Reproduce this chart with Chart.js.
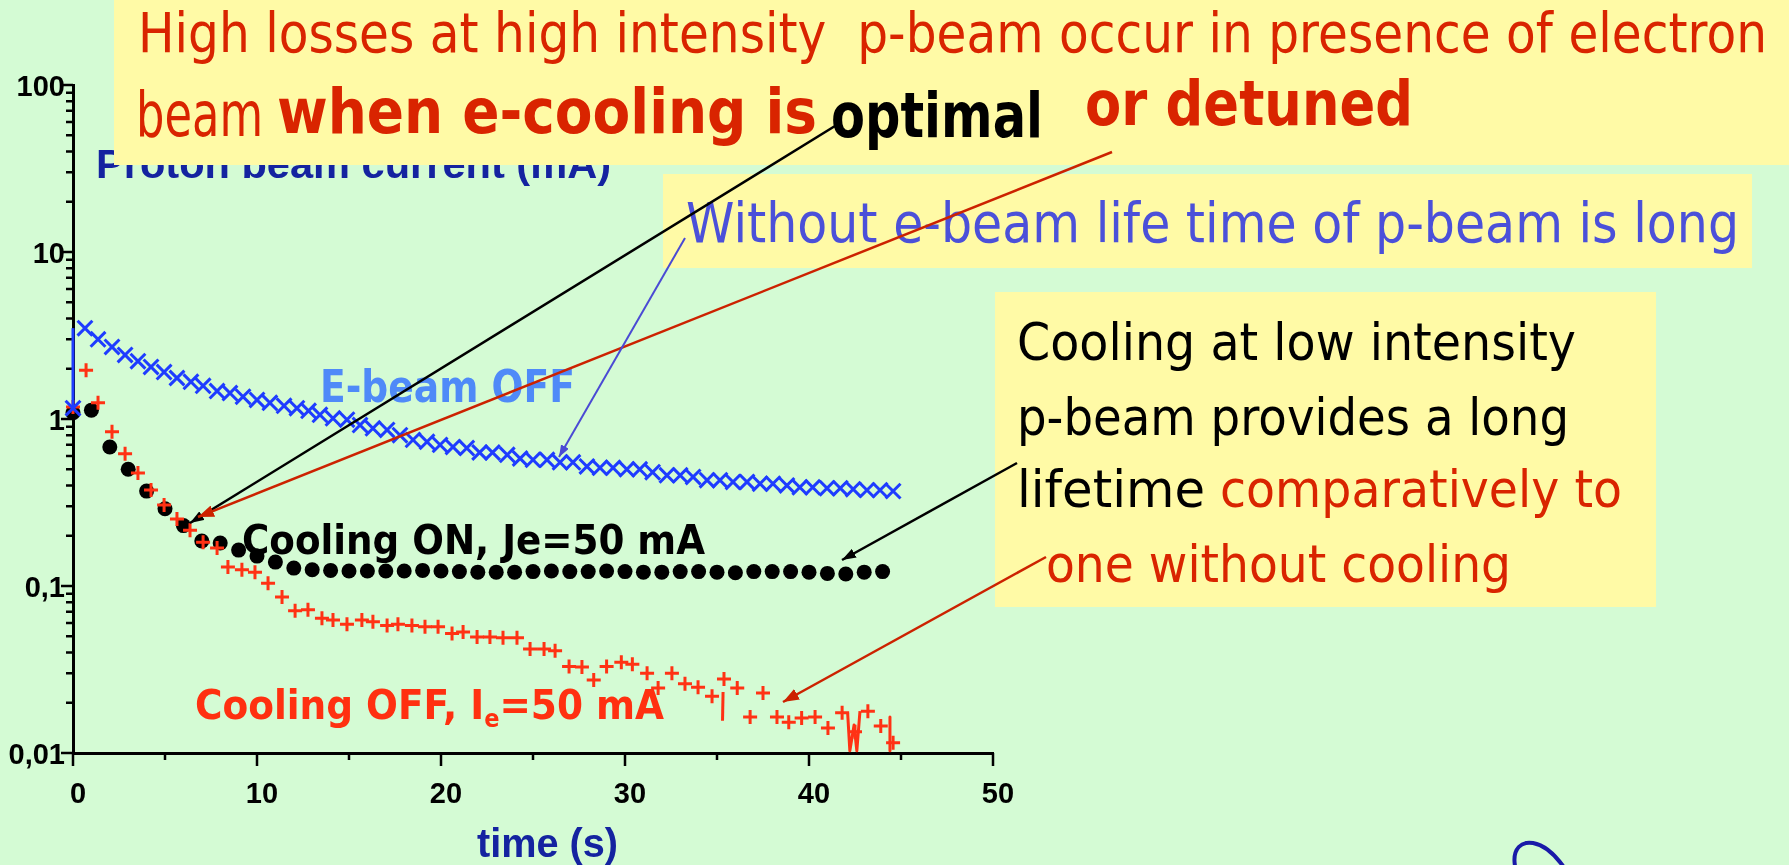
<!DOCTYPE html>
<html>
<head>
<meta charset="utf-8">
<title>Proton beam current</title>
<script src="https://cdn.jsdelivr.net/npm/chart.js@4.4.1/dist/chart.umd.min.js"></script>
<style>
    html, body { margin: 0; padding: 0; }
    body {
        width: 1789px; height: 865px; overflow: hidden; position: relative;
        background: #d4fbd4; font-family: 'DejaVu Sans', sans-serif;
    }
    #myChart { position: absolute; left: 0; top: 0; z-index: 0; }
    .box { position: absolute; background: #fffaa6; z-index: 2; }
    .t { position: absolute; white-space: nowrap; line-height: 1; transform-origin: 0 0; z-index: 3; }
    .b { font-weight: bold; }
    .axis { font-family: 'Liberation Sans', Arial, sans-serif; font-weight: bold; color: #1423a0; z-index: 1; }
    .red { color: #d92400; }
    sub { font-size: 0.6em; line-height: 0; vertical-align: -0.35em; }
    #arrows { position: absolute; left: 0; top: 0; z-index: 4; }
</style>
</head>
<body>
<canvas id="myChart" width="1789" height="865"></canvas>

<div class="t axis" data-w="515" style="left:96px;top:144px;font-size:40px">Proton beam current (mA)</div>
<div class="t axis" data-w="141" style="left:477px;top:823px;font-size:40px">time (s)</div>

<div class="box" style="left:114px;top:0;width:1675px;height:165px"></div>
<div class="t red" data-w="1629" style="left:138px;top:6px;font-size:55px">High losses at high intensity&nbsp; p-beam occur in presence of electron</div>
<div class="t red" data-w="127" style="left:136px;top:83px;font-size:63px">beam</div>
<div class="t red b" data-w="540" style="left:277px;top:80px;font-size:63px">when e-cooling is</div>
<div class="t b" data-w="212" style="left:831px;top:84px;font-size:63px;color:#000">optimal</div>
<div class="t red b" data-w="328" style="left:1085px;top:72px;font-size:63px">or detuned</div>

<div class="box" style="left:663px;top:174px;width:1089px;height:94px"></div>
<div class="t" data-w="1053" style="left:686px;top:196px;font-size:55px;color:#4b50d9">Without e-beam life time of p-beam is long</div>

<div class="box" style="left:995px;top:292px;width:661px;height:315px"></div>
<div class="t" data-w="559" style="left:1017px;top:317px;font-size:51px;color:#000">Cooling at low intensity</div>
<div class="t" data-w="552" style="left:1017px;top:392px;font-size:51px;color:#000">p-beam provides a long</div>
<div class="t" data-w="188" style="left:1017px;top:464px;font-size:51px;color:#000">lifetime</div>
<div class="t red" data-w="402" style="left:1220px;top:464px;font-size:51px">comparatively to</div>
<div class="t red" data-w="465" style="left:1046px;top:539px;font-size:51px">one without cooling</div>

<div class="t b" data-w="255" style="left:320px;top:365px;font-size:44px;color:#4f8af8">E-beam OFF</div>
<div class="t b" data-w="463" style="left:242px;top:520px;font-size:40px;color:#000">Cooling ON, Je=50 mA</div>
<div class="t b" data-w="469" style="left:195px;top:685px;font-size:40px;color:#ff3010">Cooling OFF, I<sub>e</sub>=50 mA</div>

<svg id="arrows" width="1789" height="865">
    <defs>
        <marker id="headBlack" markerUnits="userSpaceOnUse" markerWidth="14" markerHeight="10" refX="14" refY="5" orient="auto">
            <path d="M0,0 L14,5 L0,10 z" fill="#000"/>
        </marker>
        <marker id="headRed" markerUnits="userSpaceOnUse" markerWidth="16" markerHeight="12" refX="16" refY="6" orient="auto">
            <path d="M0,0 L16,6 L0,12 z" fill="#cc2200"/>
        </marker>
        <marker id="headBlue" markerUnits="userSpaceOnUse" markerWidth="12" markerHeight="9" refX="12" refY="4.5" orient="auto">
            <path d="M0,0 L12,4.5 L0,9 z" fill="#4a4ad4"/>
        </marker>
    </defs>
    <line x1="835" y1="126" x2="190" y2="523" stroke="#000" stroke-width="2.5" marker-end="url(#headBlack)"/>
    <line x1="1112" y1="152" x2="198" y2="517" stroke="#cc2200" stroke-width="2.5" marker-end="url(#headRed)"/>
    <line x1="685" y1="238" x2="559" y2="457" stroke="#4a4ad4" stroke-width="2" marker-end="url(#headBlue)"/>
    <line x1="1017" y1="463" x2="842" y2="560" stroke="#000" stroke-width="2.5" marker-end="url(#headBlack)"/>
    <line x1="1046" y1="557" x2="783" y2="702" stroke="#cc2200" stroke-width="2.5" marker-end="url(#headRed)"/>
    <path d="M1515,866 C1512,848 1522,841 1533,843 C1545,845 1555,855 1563,866" fill="none" stroke="#1a1aa8" stroke-width="4"/>
</svg>

<script>
// E-beam OFF (blue crosses)
var blueTimes = [0, 0.65, 1.36, 2.12, 2.83, 3.53, 4.24, 4.95, 5.65, 6.41, 7.07, 7.83, 8.53, 9.24, 10.0, 10.7,
    11.47, 12.17, 12.8, 13.42, 14.13, 14.89, 15.6, 16.3, 17.07, 17.77, 18.48, 19.24, 19.95, 20.65, 21.4, 22.1,
    22.8, 23.6, 24.3, 25.0, 25.76, 26.47, 27.17, 27.93, 28.64, 29.35, 30.1, 30.8, 31.5, 32.28, 33.0, 33.7,
    34.46, 35.16, 35.87, 36.63, 37.34, 38.04, 38.8, 39.5, 40.2, 40.98, 41.7, 42.4, 43.15, 43.86, 44.57];
var blueValues = [1.16, 3.5, 3.0, 2.7, 2.42, 2.22, 2.05, 1.91, 1.76, 1.67, 1.58, 1.47, 1.43, 1.36, 1.30, 1.25,
    1.20, 1.16, 1.12, 1.06, 1.01, 0.99, 0.92, 0.88, 0.86, 0.80, 0.75, 0.73, 0.70, 0.68, 0.67, 0.63,
    0.63, 0.61, 0.58, 0.57, 0.57, 0.55, 0.55, 0.52, 0.51, 0.51, 0.50, 0.50, 0.48, 0.46, 0.46, 0.45,
    0.43, 0.43, 0.42, 0.42, 0.41, 0.41, 0.40, 0.39, 0.39, 0.385, 0.385, 0.38, 0.375, 0.375, 0.37];
// vertical jump of the blue trace at t = 0
var blueStartTimes = [0, 0];
var blueStartValues = [1.16, 3.5];

// Cooling ON, Je=50 mA (black dots)
var coolOnTimes = [0, 1, 2, 3, 4, 5, 6, 7, 8, 9, 10, 11, 12, 13, 14, 15, 16, 17, 18, 19, 20, 21, 22,
    23, 24, 25, 26, 27, 28, 29, 30, 31, 32, 33, 34, 35, 36, 37, 38, 39, 40, 41, 42, 43, 44];
var coolOnValues = [1.09, 1.13, 0.68, 0.50, 0.37, 0.29, 0.23, 0.186, 0.181, 0.164, 0.151, 0.139, 0.128,
    0.125, 0.124, 0.123, 0.123, 0.123, 0.123, 0.124, 0.123, 0.122, 0.121, 0.121, 0.121, 0.122, 0.123,
    0.122, 0.122, 0.123, 0.122, 0.121, 0.121, 0.122, 0.122, 0.121, 0.120, 0.122, 0.122, 0.122, 0.121,
    0.119, 0.118, 0.121, 0.122];

// Cooling OFF, Ie=50 mA (red plus signs)
var coolOffTimes = [0, 0.71, 1.36, 2.12, 2.83, 3.53, 4.24, 4.95, 5.65, 6.36, 7.07, 7.83, 8.42, 9.18, 9.89,
    10.6, 11.36, 12.07, 12.77, 13.53, 14.13, 14.89, 15.7, 16.3, 17.07, 17.66, 18.42, 19.13, 19.84, 20.6,
    21.2, 21.96, 22.66, 23.37, 24.13, 24.84, 25.6, 26.2, 26.96, 27.66, 28.3, 29.0, 29.8, 30.4, 31.2,
    31.8, 32.55, 33.26, 33.97, 34.73, 35.38, 36.1, 36.8, 37.5, 38.26, 38.9, 39.6, 40.33, 41.03, 41.8,
    42.5, 43.2, 43.9, 44.57];
var coolOffValues = [1.18, 1.96, 1.25, 0.84, 0.62, 0.475, 0.376, 0.305, 0.252, 0.216, 0.183, 0.169, 0.130,
    0.125, 0.121, 0.104, 0.086, 0.071, 0.072, 0.064, 0.0625, 0.059, 0.0625, 0.061, 0.058, 0.059, 0.058,
    0.057, 0.057, 0.052, 0.053, 0.0495, 0.0495, 0.049, 0.049, 0.042, 0.042, 0.041, 0.033, 0.0327, 0.0274,
    0.033, 0.035, 0.034, 0.030, 0.0245, 0.030, 0.026, 0.0248, 0.0219, 0.0277, 0.0245, 0.0164, 0.0229,
    0.0164, 0.0153, 0.0162, 0.0164, 0.0141, 0.0174, 0.0134, 0.0178, 0.0145, 0.0115];
// the short red drop-out strokes near the end of the red trace
var dropTimes = [35.33, 35.30, 42.10, 42.22, 42.45, 42.60, 42.77, 44.40, 44.40];
var dropValues = [0.0232, 0.0156, 0.0174, 0.0103, 0.0147, 0.0103, 0.0178, 0.0164, 0.0103];
var dropGroup = [1, 1, 2, 2, 2, 2, 2, 3, 3];

// axis ticks
var xTickValues = [0, 10, 20, 30, 40, 50];
var yTickValues = [0.01, 0.1, 1, 10, 100];
var yTickLabels = ['0,01', '0,1', '1', '10', '100'];


function pontos(tempos, valores) {
    var lista = [];
    for (var i = 0; i < tempos.length; i++) {
        lista.push({ x: tempos[i], y: valores[i] });
    }
    return lista;
}

function mantissa(v) {
    return v / Math.pow(10, Math.floor(Math.log10(v) + 1e-9));
}

function rotuloY(v) {
    for (var i = 0; i < yTickValues.length; i++) {
        if (Math.abs(v - yTickValues[i]) < yTickValues[i] * 1e-6) return yTickLabels[i];
    }
    return '';
}

// small outward tick marks: long ones at labelled values, short ones between
var marcasEixos = {
    id: 'marcasEixos',
    beforeDatasetsDraw: function (chart) {
        var ctx = chart.ctx;
        var xs = chart.scales.x;
        var ys = chart.scales.y;
        ctx.save();
        ctx.strokeStyle = '#000';
        ctx.lineWidth = 2.5;
        ctx.beginPath();
        xs.ticks.forEach(function (t) {
            var px = xs.getPixelForValue(t.value);
            var len = xTickValues.indexOf(t.value) >= 0 ? 13 : 7;
            ctx.moveTo(px, xs.top);
            ctx.lineTo(px, xs.top + len);
        });
        ys.ticks.forEach(function (t) {
            var py = ys.getPixelForValue(t.value);
            var len = rotuloY(t.value) !== '' ? 12 : 7;
            ctx.moveTo(ys.right, py);
            ctx.lineTo(ys.right - len, py);
        });
        ctx.stroke();
        ctx.restore();
    }
};

var fonteEixo = { family: 'Liberation Sans', size: 29, weight: 'bold' };

var ctx = document.getElementById('myChart');
var myChart = new Chart(ctx, {
    type: 'scatter',
    data: {
        datasets: [{
            label: 'E-beam OFF start',
            data: pontos(blueStartTimes, blueStartValues),
            showLine: true,
            borderColor: '#1e3cff',
            borderWidth: 3,
            pointRadius: 0,
            clip: false
        }, {
            label: 'E-beam OFF',
            data: pontos(blueTimes, blueValues),
            pointStyle: 'crossRot',
            pointRadius: 10.5,
            borderColor: '#1e3cff',
            backgroundColor: '#1e3cff',
            borderWidth: 3,
            clip: false
        }, {
            label: 'Cooling OFF, Ie=50 mA',
            data: pontos(coolOffTimes, coolOffValues),
            pointStyle: 'cross',
            pointRadius: 7,
            borderColor: '#ff3214',
            backgroundColor: '#ff3214',
            borderWidth: 3,
            clip: false
        }, {
            label: 'drop-outs',
            data: pontos(dropTimes, dropValues),
            showLine: true,
            pointRadius: 0,
            borderWidth: 3,
            borderJoinStyle: 'round',
            borderColor: '#ff3214',
            segment: {
                borderColor: function (c) {
                    return dropGroup[c.p0DataIndex] === dropGroup[c.p1DataIndex] ? '#ff3214' : 'rgba(0,0,0,0)';
                }
            },
            clip: false
        }, {
            label: 'Cooling ON, Je=50 mA',
            data: pontos(coolOnTimes, coolOnValues),
            pointStyle: 'circle',
            pointRadius: 7.5,
            borderWidth: 0,
            backgroundColor: '#000',
            borderColor: '#000',
            clip: false
        }]
    },
    options: {
        responsive: false,
        animation: false,
        devicePixelRatio: 1,
        layout: { padding: { left: 0, top: 85, right: 796, bottom: 42 } },
        plugins: {
            legend: { display: false },
            tooltip: { enabled: false }
        },
        scales: {
            x: {
                type: 'linear',
                min: 0,
                max: 50,
                afterFit: function (s) { s.height = 70; },
                border: { display: true, color: '#000', width: 3 },
                grid: { display: false, drawTicks: false },
                ticks: {
                    stepSize: 5,
                    autoSkip: false,
                    maxRotation: 0,
                    padding: 25,
                    labelOffset: 5,
                    color: '#000',
                    font: fonteEixo,
                    callback: function (v) { return xTickValues.indexOf(v) >= 0 ? String(v) : ''; }
                }
            },
            y: {
                type: 'logarithmic',
                min: 0.01,
                max: 100,
                afterFit: function (s) { s.width = 73; },
                afterBuildTicks: function (s) {
                    s.ticks = s.ticks.filter(function (t) { return Math.abs(mantissa(t.value) - 1.5) > 1e-6; });
                },
                border: { display: true, color: '#000', width: 3 },
                grid: { display: false, drawTicks: false },
                ticks: {
                    autoSkip: false,
                    padding: 8,
                    labelOffset: 3,
                    color: '#000',
                    font: fonteEixo,
                    callback: function (v) { return rotuloY(v); }
                }
            }
        }
    },
    plugins: [marcasEixos]
});

// squeeze each text line to the width it has in the slide
function ajustaTextos() {
    document.querySelectorAll('[data-w]').forEach(function (el) {
        el.style.transform = 'none';
        var w = el.getBoundingClientRect().width;
        el.style.transform = 'scaleX(' + (parseFloat(el.dataset.w) / w) + ')';
    });
}
ajustaTextos();
document.fonts.ready.then(ajustaTextos);
</script>
</body>
</html>
